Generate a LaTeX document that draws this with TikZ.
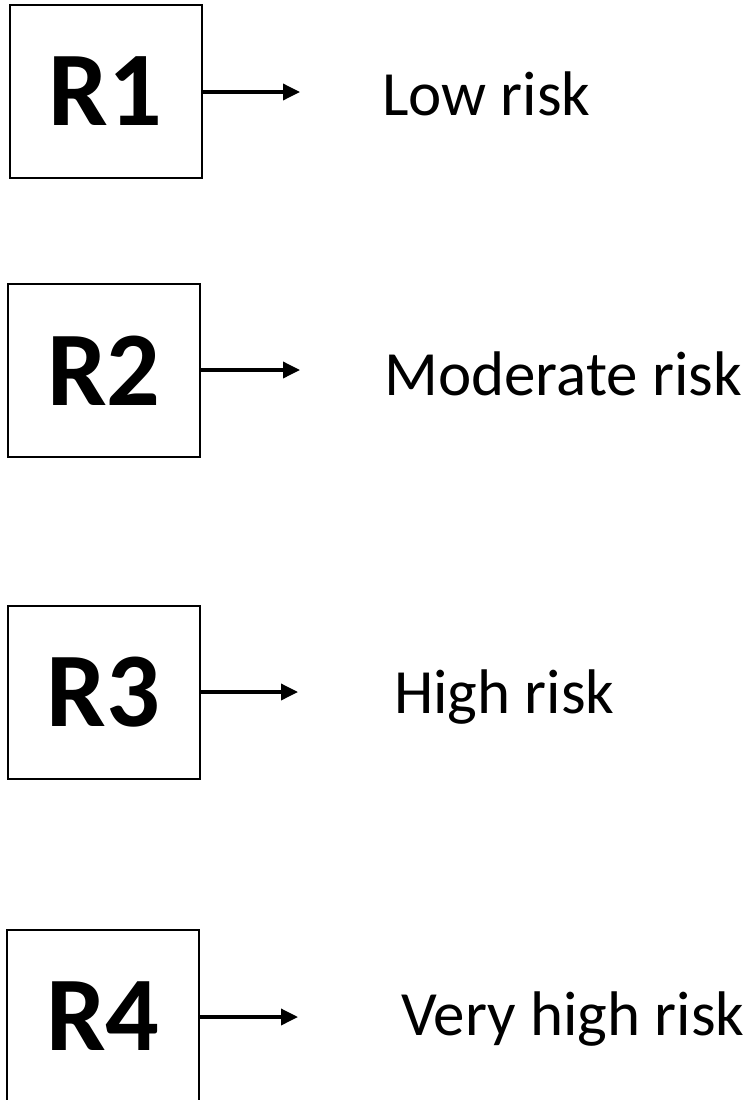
\documentclass[tikz,border=0pt]{standalone}
\usepackage{fontspec}
\setmainfont{Carlito}
\usetikzlibrary{arrows.meta}
\begin{document}
\begin{tikzpicture}[x=1pt,y=-1pt,
  rbox/.style={draw, line width=2pt, minimum width=192pt, minimum height=173pt, inner sep=0pt, font=\fontsize{106}{106}\selectfont\bfseries},
  lab/.style={anchor=base west, inner sep=0pt, font=\fontsize{63}{63}\selectfont},
  arr/.style={line width=3.5pt, -{Triangle[length=17pt,width=16pt]}}]
\useasboundingbox (0,0) rectangle (755,1100);
\node[rbox] (r1) at (105.5,91.5) {R1};
\node[rbox] (r2) at (104,370.5) {R2};
\node[rbox] (r3) at (103.5,692) {R3};
\node[rbox] (r4) at (103,1016.5) {R4};
\coordinate (e1) at (300,92);
\coordinate (e2) at (300,370);
\coordinate (e3) at (298,692);
\coordinate (e4) at (298,1017);
\draw[arr] (r1.east |- e1) -- (e1);
\draw[arr] (r2.east |- e2) -- (e2);
\draw[arr] (r3.east |- e3) -- (e3);
\draw[arr] (r4.east |- e4) -- (e4);
\node[lab] (l1) at (382,115) {Low risk};
\node[lab] (l2) at (384,395) {Moderate risk};
\node[lab] (l3) at (394,713) {High risk};
\node[lab] (l4) at (401,1035) {Very high risk};
\end{tikzpicture}
\end{document}
